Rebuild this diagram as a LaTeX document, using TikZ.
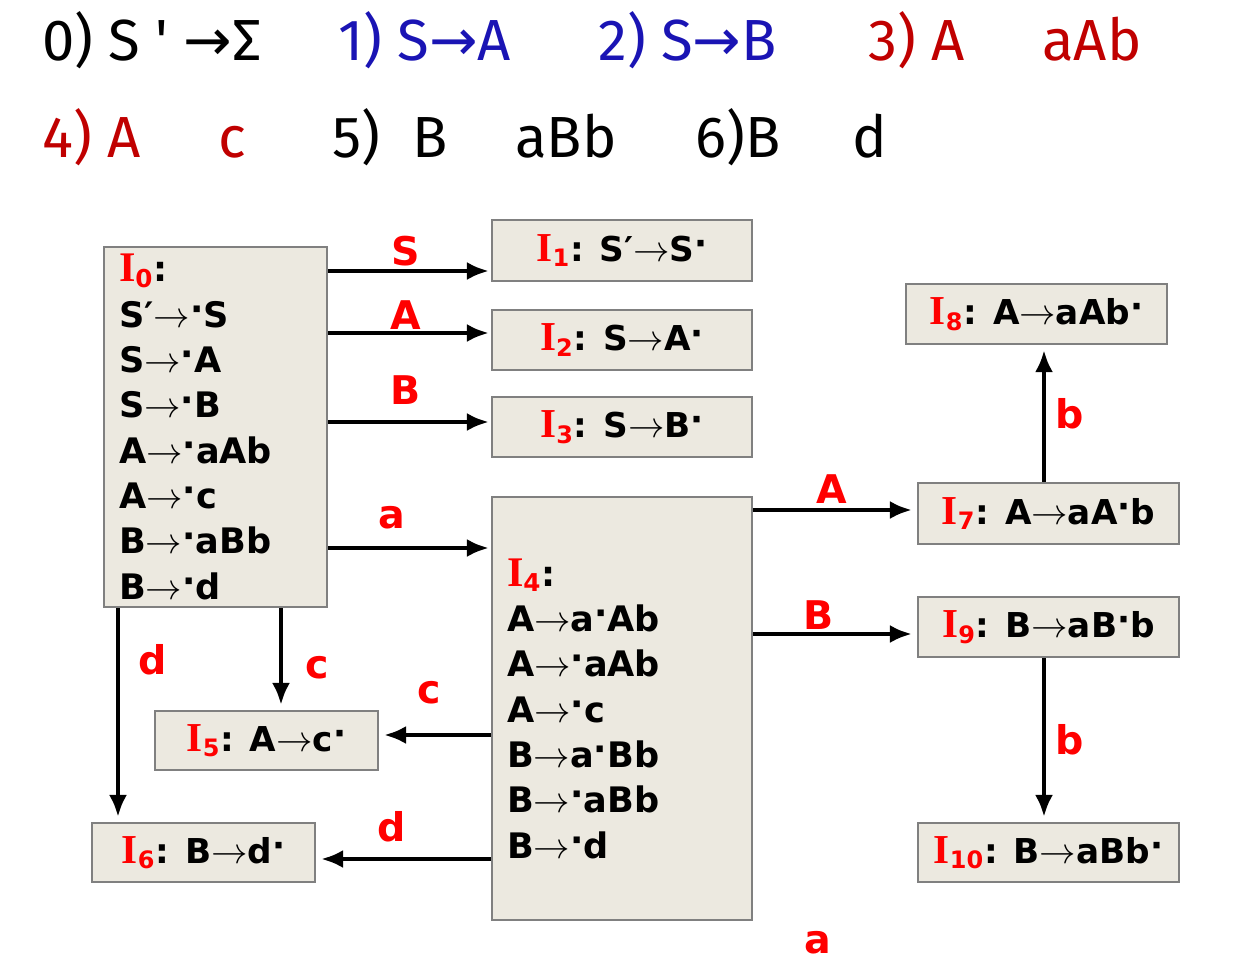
\documentclass[tikz,border=0pt]{standalone}
\usepackage{fontspec}
\setmainfont{DejaVu Sans}
\newfontfamily\handfont{Fira Sans}
\newfontfamily\symfont{DejaVu Sans}
\newfontfamily\itemfont{Liberation Serif}
\usetikzlibrary{arrows.meta}

\definecolor{boxfill}{RGB}{236,233,224}
\definecolor{boxline}{RGB}{128,128,128}
\definecolor{rulered}{RGB}{192,0,0}
\definecolor{ruleblue}{RGB}{26,20,180}

\newcommand{\St}[1]{{\color{red}\scalebox{1.2}{\itemfont\bfseries I}\textsubscript{\bfseries #1}}}
\newcommand{\dt}{\raisebox{0.3ex}{·}}
\newcommand{\tto}{\ensuremath{\rightarrow}}

\tikzset{
  itemset/.style={draw=boxline, line width=1.2pt, fill=boxfill, inner sep=0pt,
    font=\bfseries\fontsize{19.5}{22}\selectfont},
  itembox/.style={itemset, font=\bfseries\fontsize{20}{25.8}\selectfont,
    align=left, inner xsep=0.3cm},
  trans/.style={-{Latex[length=0.44cm,width=0.36cm]}, line width=2.5pt, shorten >=0.1cm},
  lbl/.style={text=red, font=\bfseries\fontsize{22.5}{26}\selectfont, anchor=base, inner sep=0pt},
  rule/.style={font=\handfont\fontsize{33}{36}\selectfont, anchor=base west, inner sep=0pt},
}

\begin{document}
\begin{tikzpicture}[x=0.02cm, y=-0.02cm]

  \useasboundingbox (0,0) rectangle (1236,968);

  % grammar
  \node[rule] (r0) at (42,60) {0) S ' {\symfont →}Σ};
  \node[rule, text=ruleblue] (r1) at (338,60) {1) S{\symfont →}A};
  \node[rule, text=ruleblue] (r2) at (598,60) {2) S{\symfont →}B};
  \node[rule, text=rulered] (r3) at (868,60) {3) A};
  \node[rule, text=rulered] (r3b) at (1042,60) {aAb};
  \node[rule, text=rulered] (r4) at (42,157) {4) A};
  \node[rule, text=rulered] (r4b) at (218,157) {c};
  \node[rule] (r5) at (332,157) {5)};
  \node[rule] (r5a) at (412,157) {B};
  \node[rule] (r5b) at (515,157) {aBb};
  \node[rule] (r6) at (695,157) {6)B};
  \node[rule] (r6b) at (852,157) {d};

  % item sets
  \node[itembox, minimum width=4.46cm, minimum height=7.2cm, text width=3.86cm] (i0) at (215.5,427)
    {\St{0}:\\ S′\tto\dt S\\ S\tto\dt A\\ S\tto\dt B\\ A\tto\dt aAb\\ A\tto\dt c\\ B\tto\dt aBb\\ B\tto\dt d};
  \node[itemset, minimum width=5.2cm, minimum height=1.22cm] (i1) at (622,250.5) {\St{1}: S′\tto S\dt};
  \node[itemset, minimum width=5.2cm, minimum height=1.2cm] (i2) at (622,340) {\St{2}: S\tto A\dt};
  \node[itemset, minimum width=5.2cm, minimum height=1.2cm] (i3) at (622,427) {\St{3}: S\tto B\dt};
  \node[itembox, minimum width=5.2cm, minimum height=8.46cm, text width=4.6cm] (i4) at (622,708.5)
    {\St{4}:\\ A\tto a\dt Ab\\ A\tto\dt aAb\\ A\tto\dt c\\ B\tto a\dt Bb\\ B\tto\dt aBb\\ B\tto\dt d};
  \node[itemset, minimum width=4.46cm, minimum height=1.18cm] (i5) at (266.5,740.5) {\St{5}: A\tto c\dt};
  \node[itemset, minimum width=4.46cm, minimum height=1.18cm] (i6) at (203.5,852.5) {\St{6}: B\tto d\dt};
  \node[itemset, minimum width=5.22cm, minimum height=1.22cm] (i7) at (1048.5,513.5) {\St{7}: A\tto aA\dt b};
  \node[itemset, minimum width=5.22cm, minimum height=1.2cm] (i8) at (1036.5,314) {\St{8}: A\tto aAb\dt};
  \node[itemset, minimum width=5.22cm, minimum height=1.2cm] (i9) at (1048.5,627) {\St{9}: B\tto aB\dt b};
  \node[itemset, minimum width=5.22cm, minimum height=1.18cm] (i10) at (1048.5,852.5) {\St{10}: B\tto aBb\dt};

  % transitions
  \draw[trans, shorten >=0.04cm] (i0.east |- 0,271) -- (i1.west |- 0,271);
  \draw[trans, shorten >=0.04cm] (i0.east |- 0,333) -- (i2.west |- 0,333);
  \draw[trans, shorten >=0.04cm] (i0.east |- 0,422) -- (i3.west |- 0,422);
  \draw[trans, shorten >=0.04cm] (i0.east |- 0,548) -- (i4.west |- 0,548);
  \draw[trans] (i0.south -| 118,0) -- (i6.north -| 118,0);
  \draw[trans] (i0.south -| 281,0) -- (i5.north -| 281,0);
  \draw[trans] (i4.west |- 0,735) -- (i5.east |- 0,735);
  \draw[trans] (i4.west |- 0,859) -- (i6.east |- 0,859);
  \draw[trans] (i4.east |- 0,510) -- (i7.west |- 0,510);
  \draw[trans] (i4.east |- 0,634) -- (i9.west |- 0,634);
  \draw[trans] (i7.north -| 1044,0) -- (i8.south -| 1044,0);
  \draw[trans] (i9.south -| 1044,0) -- (i10.north -| 1044,0);

  % labels
  \node[lbl] (lS) at (406,265) {S};
  \node[lbl] (lA) at (406,329) {A};
  \node[lbl] (lB) at (406,404) {B};
  \node[lbl] (la) at (392,528) {a};
  \node[lbl] (ld) at (153,674) {d};
  \node[lbl] (lc) at (317,678) {c};
  \node[lbl] (lc2) at (429,703) {c};
  \node[lbl] (ld2) at (392,841) {d};
  \node[lbl] (lA2) at (832,503) {A};
  \node[lbl] (lB2) at (819,629) {B};
  \node[lbl] (lb) at (1070,428) {b};
  \node[lbl] (lb2) at (1070,754) {b};
  \node[lbl] (la2) at (818,953) {a};

\end{tikzpicture}
\end{document}
